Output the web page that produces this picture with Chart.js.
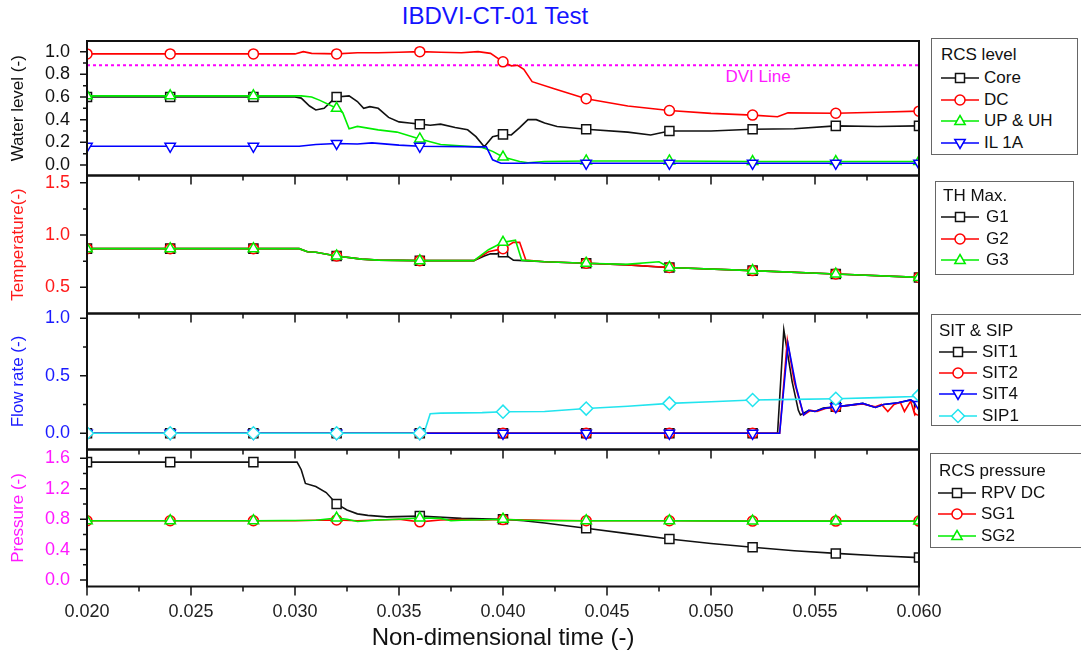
<!DOCTYPE html>
<html>
<head>
<meta charset="utf-8">
<script src="https://cdn.jsdelivr.net/npm/chart.js@4.4.1/dist/chart.umd.min.js"></script>
<style>
  html, body { margin: 0; padding: 0; background: #fff; }
  body { width: 1081px; height: 657px; position: relative; overflow: hidden;
         font-family: 'Liberation Sans', Arial, sans-serif; }
  .panel { position: absolute; left: 0; }
  .title { position: absolute; left: 0; width: 990px; top: 2px; text-align: center;
           font-size: 24px; line-height: 28px; color: #1414ff; }
  .note { position: absolute; font-size: 17px; line-height: 20px; color: #ff19ff;
          transform: translateX(-50%); white-space: nowrap; }
  .legend { position: absolute; border: 1px solid #666; background: #fff;
            font-size: 17px; color: #111; box-sizing: border-box; }
  .legend .row { position: absolute; left: 0; right: 0; height: 20px; line-height: 20px; white-space: nowrap; }
  .legend .row svg { position: absolute; top: 2px; }
  .legend .row span { position: absolute; }
</style>
</head>
<body>
<div class="title">IBDVI-CT-01 Test</div>
<div class="note" style="left:758px; top:67px;">DVI Line</div>

<script>
// ---------- data ----------
// water level panel
const coreT = [0.020, 0.024, 0.028, 0.030, 0.0303, 0.0307, 0.0310, 0.0314, 0.0318, 0.032, 0.0326, 0.0330, 0.0333, 0.0336,
  0.0340, 0.0345, 0.0350, 0.0355, 0.036, 0.0365, 0.0370, 0.0377, 0.0383, 0.0387, 0.0391, 0.0395, 0.040, 0.0404, 0.0408,
  0.0412, 0.0416, 0.0420, 0.0426, 0.044, 0.046, 0.0471, 0.048, 0.050, 0.052, 0.054, 0.056, 0.058, 0.060];
const coreV = [0.60, 0.60, 0.60, 0.60, 0.59, 0.52, 0.485, 0.50, 0.57, 0.60, 0.61, 0.56, 0.50, 0.515,
  0.50, 0.42, 0.38, 0.37, 0.36, 0.35, 0.36, 0.33, 0.31, 0.25, 0.16, 0.25, 0.27, 0.265, 0.33,
  0.40, 0.40, 0.37, 0.34, 0.315, 0.29, 0.265, 0.30, 0.30, 0.315, 0.32, 0.345, 0.34, 0.345];
const dcT = [0.020, 0.024, 0.028, 0.0300, 0.0304, 0.0308, 0.032, 0.033, 0.034, 0.035, 0.036, 0.037, 0.038, 0.0388, 0.0394,
  0.040, 0.0404, 0.0407, 0.0410, 0.0414, 0.0425, 0.044, 0.046, 0.048, 0.050, 0.052, 0.0532, 0.0537, 0.056, 0.058, 0.060];
const dcV = [0.98, 0.98, 0.98, 0.98, 1.00, 0.985, 0.98, 0.99, 0.99, 0.995, 1.00, 0.995, 0.99, 1.00, 0.985,
  0.91, 0.875, 0.88, 0.845, 0.735, 0.67, 0.585, 0.52, 0.48, 0.455, 0.44, 0.425, 0.46, 0.456, 0.465, 0.475];
const upT = [0.020, 0.024, 0.028, 0.0303, 0.0308, 0.0312, 0.032, 0.0323, 0.0326, 0.0330, 0.0340, 0.0349, 0.036, 0.037,
  0.039, 0.0395, 0.040, 0.0408, 0.0412, 0.042, 0.044, 0.048, 0.052, 0.056, 0.060];
const upV = [0.61, 0.61, 0.61, 0.61, 0.60, 0.57, 0.50, 0.46, 0.32, 0.34, 0.31, 0.29, 0.23, 0.18,
  0.155, 0.12, 0.07, 0.03, 0.02, 0.03, 0.035, 0.035, 0.03, 0.03, 0.03];
const ilT = [0.020, 0.024, 0.028, 0.0302, 0.031, 0.032, 0.033, 0.0337, 0.035, 0.036, 0.0392, 0.0395, 0.0399, 0.041,
  0.0415, 0.042, 0.044, 0.048, 0.052, 0.056, 0.060];
const ilV = [0.165, 0.165, 0.165, 0.165, 0.18, 0.19, 0.185, 0.195, 0.175, 0.165, 0.16, 0.045, 0.015, 0.015,
  0.02, 0.015, 0.015, 0.015, 0.015, 0.015, 0.015];
const dviT = [0.020, 0.060];
const dviV = [0.88, 0.88];

// temperature panel
const g1T = [0.020, 0.024, 0.028, 0.0302, 0.0306, 0.031, 0.032, 0.0332, 0.034, 0.036, 0.0386, 0.0391, 0.0394, 0.0397,
  0.040, 0.0402, 0.0405, 0.042, 0.044, 0.046, 0.0475, 0.048, 0.052, 0.056, 0.060];
const g1V = [0.87, 0.87, 0.87, 0.87, 0.84, 0.835, 0.80, 0.77, 0.76, 0.755, 0.755, 0.80, 0.82, 0.82,
  0.835, 0.80, 0.76, 0.745, 0.73, 0.715, 0.695, 0.69, 0.66, 0.627, 0.595];
const g2T = [0.020, 0.024, 0.028, 0.0302, 0.0306, 0.031, 0.032, 0.0332, 0.034, 0.036, 0.0386, 0.0393, 0.040, 0.0405,
  0.0408, 0.0411, 0.042, 0.044, 0.046, 0.048, 0.052, 0.056, 0.060];
const g2V = [0.87, 0.87, 0.87, 0.87, 0.84, 0.835, 0.80, 0.77, 0.76, 0.755, 0.755, 0.84, 0.87, 0.93,
  0.93, 0.76, 0.745, 0.73, 0.715, 0.69, 0.66, 0.627, 0.595];
const g3T = [0.020, 0.024, 0.028, 0.0302, 0.0306, 0.031, 0.032, 0.0332, 0.034, 0.036, 0.0386, 0.0393, 0.040, 0.0406,
  0.0409, 0.042, 0.044, 0.0459, 0.0475, 0.048, 0.052, 0.056, 0.060];
const g3V = [0.87, 0.87, 0.87, 0.87, 0.84, 0.835, 0.80, 0.77, 0.76, 0.755, 0.755, 0.86, 0.93, 0.95,
  0.76, 0.745, 0.73, 0.72, 0.745, 0.69, 0.66, 0.627, 0.595];

// flow rate panel
const sit1T = [0.020, 0.024, 0.028, 0.032, 0.036, 0.040, 0.044, 0.048, 0.052, 0.0532, 0.0535, 0.0539, 0.0542, 0.0543,
  0.0547, 0.0550, 0.0554, 0.056, 0.0567, 0.0573, 0.0579, 0.0583, 0.059, 0.0596, 0.060];
const sit1V = [0, 0, 0, 0, 0, 0, 0, 0, 0, 0, 0.90, 0.45, 0.20, 0.16,
  0.20, 0.19, 0.22, 0.23, 0.245, 0.26, 0.225, 0.25, 0.265, 0.29, 0.23];
const sit2T = [0.020, 0.024, 0.028, 0.032, 0.036, 0.040, 0.044, 0.048, 0.052, 0.0533, 0.05367, 0.0540, 0.05445, 0.0548,
  0.0551, 0.0555, 0.056, 0.0567, 0.0573, 0.0579, 0.0582, 0.0585, 0.0588, 0.0591, 0.0593, 0.0596, 0.0598, 0.060];
const sit2V = [0, 0, 0, 0, 0, 0, 0, 0, 0, 0, 0.81, 0.45, 0.16, 0.20,
  0.19, 0.215, 0.23, 0.245, 0.255, 0.23, 0.25, 0.19, 0.25, 0.27, 0.19, 0.28, 0.16, 0.20];
const sit4T = [0.020, 0.024, 0.028, 0.032, 0.036, 0.040, 0.044, 0.048, 0.052, 0.0533, 0.0537, 0.0541, 0.05445, 0.0547,
  0.0550, 0.0554, 0.056, 0.0567, 0.0573, 0.0579, 0.0583, 0.059, 0.0596, 0.060];
const sit4V = [0, 0, 0, 0, 0, 0, 0, 0, 0, 0, 0.78, 0.40, 0.16, 0.20,
  0.19, 0.215, 0.23, 0.245, 0.26, 0.225, 0.25, 0.265, 0.29, 0.25];
const sip1T = [0.020, 0.024, 0.028, 0.032, 0.036, 0.0362, 0.0365, 0.037, 0.039, 0.040, 0.042, 0.044, 0.046, 0.048,
  0.050, 0.052, 0.054, 0.056, 0.058, 0.0598, 0.060];
const sip1V = [0, 0, 0, 0, 0, 0, 0.17, 0.175, 0.18, 0.188, 0.19, 0.215, 0.235, 0.26,
  0.275, 0.29, 0.295, 0.30, 0.31, 0.32, 0.33];

// pressure panel
const rpvT = [0.020, 0.024, 0.028, 0.0301, 0.0303, 0.0305, 0.031, 0.0315, 0.032, 0.0325, 0.033, 0.0335, 0.0344, 0.036,
  0.038, 0.040, 0.041, 0.042, 0.044, 0.046, 0.048, 0.050, 0.052, 0.054, 0.056, 0.058, 0.060];
const rpvV = [1.55, 1.55, 1.55, 1.55, 1.45, 1.27, 1.23, 1.15, 1.00, 0.92, 0.87, 0.85, 0.83, 0.84,
  0.81, 0.80, 0.78, 0.75, 0.68, 0.61, 0.54, 0.48, 0.43, 0.385, 0.35, 0.32, 0.295];
const sg1T = [0.020, 0.024, 0.028, 0.030, 0.031, 0.032, 0.033, 0.034, 0.035, 0.036, 0.037, 0.038, 0.039, 0.040,
  0.042, 0.044, 0.048, 0.052, 0.056, 0.060];
const sg1V = [0.78, 0.78, 0.78, 0.78, 0.785, 0.79, 0.78, 0.79, 0.80, 0.765, 0.79, 0.795, 0.79, 0.795,
  0.785, 0.78, 0.78, 0.775, 0.775, 0.775];
const sg2T = [0.020, 0.024, 0.028, 0.031, 0.032, 0.0325, 0.033, 0.034, 0.035, 0.036, 0.0370, 0.0375, 0.038, 0.040,
  0.041, 0.042, 0.044, 0.048, 0.052, 0.056, 0.060];
const sg2V = [0.78, 0.78, 0.78, 0.785, 0.815, 0.80, 0.77, 0.79, 0.80, 0.815, 0.81, 0.78, 0.785, 0.80,
  0.785, 0.78, 0.78, 0.78, 0.775, 0.775, 0.775];

// axis ticks
const xMajor = [0.020, 0.025, 0.030, 0.035, 0.040, 0.045, 0.050, 0.055, 0.060];
const xMinor = [0.0225, 0.0275, 0.0325, 0.0375, 0.0425, 0.0475, 0.0525, 0.0575];
const levelTicks = [0.0, 0.2, 0.4, 0.6, 0.8, 1.0];
const levelMinor = [0.1, 0.3, 0.5, 0.7, 0.9];
const tempTicks = [0.5, 1.0, 1.5];
const tempMinor = [0.75, 1.25];
const flowTicks = [0.0, 0.5, 1.0];
const flowMinor = [0.25, 0.75];
const pressTicks = [0.0, 0.4, 0.8, 1.2, 1.6];
const pressMinor = [0.2, 0.6, 1.0, 1.4];

const levelNames = ['Core', 'DC', 'UP & UH', 'IL 1A'];
const tempNames = ['G1', 'G2', 'G3'];
const flowNames = ['SIT1', 'SIT2', 'SIT4', 'SIP1'];
const pressNames = ['RPV DC', 'SG1', 'SG2'];

// ---------- look ----------
const FONT = "'Liberation Sans', Arial, sans-serif";
const BLACK = '#111111', RED = '#ff0000', GREEN = '#00ee00', BLUE = '#0000ff', CYAN = '#22e4ee', MAGENTA = '#ff00ff';
const PLOT_L = 87, PLOT_R = 919, CANVAS_W = 960;
const edges = [41, 175.5, 313.5, 449.5, 586.5];

Chart.defaults.font.family = FONT;

function pts(ts, vs) { return ts.map((t, i) => ({x: t, y: vs[i]})); }
function isMarker(t) { const k = (t - 0.020) / 0.004; return Math.abs(k - Math.round(k)) < 1e-6; }

function series(label, ts, vs, color, style, r, extra) {
  return Object.assign({
    label, data: pts(ts, vs), borderColor: color, borderWidth: 1.6, tension: 0, fill: false,
    clip: 0,
    pointStyle: style,
    pointRadius: c => (c.raw && isMarker(c.raw.x)) ? r : 0,
    pointHoverRadius: 0,
    pointBackgroundColor: '#ffffff', pointBorderColor: color, pointBorderWidth: 1.5
  }, extra || {});
}

// frame + tick marks (x ticks hang down from each panel's lower edge)
const frameTicks = {
  id: 'frameTicks',
  afterDraw(chart, args, o) {
    const {ctx, chartArea: a} = chart;
    const xs = chart.scales.x, ys = chart.scales.y;
    ctx.save();
    ctx.strokeStyle = '#111';
    ctx.lineWidth = 1.5;
    ctx.beginPath();
    xMajor.forEach(v => { const p = xs.getPixelForValue(v); ctx.moveTo(p, a.bottom); ctx.lineTo(p, a.bottom + 9); });
    xMinor.forEach(v => { const p = xs.getPixelForValue(v); ctx.moveTo(p, a.bottom); ctx.lineTo(p, a.bottom + 5); });
    o.major.forEach(v => { const p = ys.getPixelForValue(v); ctx.moveTo(a.left - 7, p); ctx.lineTo(a.left, p); });
    o.minor.forEach(v => { const p = ys.getPixelForValue(v); ctx.moveTo(a.left - 4, p); ctx.lineTo(a.left, p); });
    ctx.stroke();
    ctx.lineWidth = 2;
    ctx.strokeRect(a.left, a.top, a.right - a.left, a.bottom - a.top);
    ctx.restore();
  }
};

function makePanel(i, datasets, ycfg, bottomAxis) {
  const top = Math.floor(edges[i]) - 30;
  const padTop = edges[i] - top;
  const areaH = edges[i + 1] - edges[i];
  const axisH = bottomAxis ? 70 : 0;
  const H = Math.ceil(padTop + areaH + axisH + (bottomAxis ? 0 : 30));
  const padBottom = H - padTop - areaH - axisH;

  const wrap = document.createElement('div');
  wrap.className = 'panel';
  wrap.style.top = top + 'px';
  const cv = document.createElement('canvas');
  cv.width = CANVAS_W; cv.height = H;
  cv.style.width = CANVAS_W + 'px'; cv.style.height = H + 'px';
  wrap.appendChild(cv);
  document.body.appendChild(wrap);

  const xScale = bottomAxis ? {
    type: 'linear', min: 0.020, max: 0.060,
    afterFit: s => { s.height = axisH; },
    afterBuildTicks: s => { s.ticks = xMajor.map(v => ({value: v})); },
    grid: { display: false, drawTicks: false },
    border: { display: false },
    ticks: { color: '#222', font: { size: 18 }, padding: 15, autoSkip: false, maxRotation: 0,
             callback: v => v.toFixed(3) },
    title: { display: true, text: 'Non-dimensional time (-)', color: '#111',
             font: { size: 24 }, padding: { top: 0, bottom: 4 } }
  } : { type: 'linear', min: 0.020, max: 0.060, display: false };

  return new Chart(cv, {
    type: 'line',
    data: { datasets },
    options: {
      responsive: false, animation: false, events: [],
      layout: { padding: { top: padTop, bottom: padBottom, left: 0, right: CANVAS_W - PLOT_R } },
      plugins: { legend: { display: false }, tooltip: { enabled: false },
                 frameTicks: { major: ycfg.ticks, minor: ycfg.minor } },
      scales: {
        x: xScale,
        y: {
          type: 'linear', min: ycfg.min, max: ycfg.max,
          afterFit: s => { s.width = PLOT_L; },
          afterBuildTicks: s => { s.ticks = ycfg.ticks.map(v => ({value: v})); },
          grid: { display: false, drawTicks: false },
          border: { display: false },
          ticks: { color: ycfg.color, font: { size: 18 }, padding: 17, autoSkip: false,
                   callback: v => v.toFixed(1) },
          title: { display: true, text: ycfg.title, color: ycfg.color,
                   font: { size: 17 }, padding: { top: 8, bottom: 0 } }
        }
      }
    },
    plugins: [frameTicks]
  });
}

makePanel(0, [
  series('Core', coreT, coreV, BLACK, 'rect', 6.4, { order: 0 }),
  series('DC', dcT, dcV, RED, 'circle', 5, { order: -1 }),
  series('UP & UH', upT, upV, GREEN, 'triangle', 6, { order: -2 }),
  series('IL 1A', ilT, ilV, BLUE, 'triangle', 6, { order: -3, pointRotation: 180 }),
  { label: 'DVI Line', data: pts(dviT, dviV), borderColor: MAGENTA, borderWidth: 2, clip: 0,
    borderDash: [3, 3], pointRadius: 0, order: 1 }
], { min: -0.093, max: 1.094, ticks: levelTicks, minor: levelMinor, color: BLACK, title: 'Water level (-)' }, false);

makePanel(1, [
  series('G1', g1T, g1V, BLACK, 'rect', 6.4, { order: 0 }),
  series('G2', g2T, g2V, RED, 'circle', 5, { order: -1 }),
  series('G3', g3T, g3V, GREEN, 'triangle', 6, { order: -2 })
], { min: 0.25, max: 1.569, ticks: tempTicks, minor: tempMinor, color: '#ff1a1a', title: 'Temperature(-)' }, false);

makePanel(2, [
  series('SIT1', sit1T, sit1V, BLACK, 'rect', 6.4, { order: 0 }),
  series('SIT2', sit2T, sit2V, RED, 'circle', 5, { order: -1 }),
  series('SIT4', sit4T, sit4V, BLUE, 'triangle', 6, { order: -2, pointRotation: 180 }),
  series('SIP1', sip1T, sip1V, CYAN, 'rectRot', 6.5, { order: -3 })
], { min: -0.141, max: 1.042, ticks: flowTicks, minor: flowMinor, color: '#1a1aff', title: 'Flow rate (-)' }, false);

makePanel(3, [
  series('RPV DC', rpvT, rpvV, BLACK, 'rect', 6.4, { order: 0 }),
  series('SG1', sg1T, sg1V, RED, 'circle', 5, { order: -1 }),
  series('SG2', sg2T, sg2V, GREEN, 'triangle', 6, { order: -2 })
], { min: -0.085, max: 1.716, ticks: pressTicks, minor: pressMinor, color: '#ff19ff', title: 'Pressure (-)' }, true);

// ---------- legends (HTML) ----------
function icon(style, color) {
  let m = '';
  if (style === 'square') m = `<rect x="14.5" y="3.5" width="9" height="9"/>`;
  else if (style === 'circle') m = `<circle cx="19" cy="8" r="5"/>`;
  else if (style === 'up') m = `<polygon points="19,2.5 24.2,11.5 13.8,11.5"/>`;
  else if (style === 'down') m = `<polygon points="13.8,4.5 24.2,4.5 19,13.5"/>`;
  else m = `<polygon points="19,1.5 25.5,8 19,14.5 12.5,8"/>`;
  return `<svg width="38" height="16" viewBox="0 0 38 16">` +
    `<line x1="0" y1="8" x2="38" y2="8" stroke="${color}" stroke-width="1.6"/>` +
    `<g fill="#fff" stroke="${color}" stroke-width="1.5">${m}</g></svg>`;
}

const legends = [
  { left: 931, top: 38, w: 147, h: 117, title: 'RCS level', titleY: 16, titleX: 9, lineX: 9, textX: 52,
    rows: [39, 60.5, 82, 103.5], names: levelNames,
    styles: ['square', 'circle', 'up', 'down'], colors: [BLACK, RED, GREEN, BLUE] },
  { left: 935, top: 181, w: 139, h: 94, title: 'TH Max.', titleY: 14, titleX: 7, lineX: 5, textX: 50,
    rows: [35, 56.7, 78.3], names: tempNames,
    styles: ['square', 'circle', 'up'], colors: [BLACK, RED, GREEN] },
  { left: 931, top: 314, w: 170, h: 112, title: 'SIT & SIP', titleY: 16, titleX: 7, lineX: 7, textX: 50,
    rows: [36.7, 57.7, 79.3, 101.3], names: flowNames,
    styles: ['square', 'circle', 'down', 'diamond'], colors: [BLACK, RED, BLUE, CYAN] },
  { left: 930, top: 453, w: 170, h: 95, title: 'RCS pressure', titleY: 17, titleX: 8, lineX: 7, textX: 50,
    rows: [39, 60.3, 82.3], names: pressNames,
    styles: ['square', 'circle', 'up'], colors: [BLACK, RED, GREEN] }
];

legends.forEach(L => {
  const box = document.createElement('div');
  box.className = 'legend';
  Object.assign(box.style, { left: L.left + 'px', top: L.top + 'px', width: L.w + 'px', height: L.h + 'px' });
  const t = document.createElement('div');
  t.className = 'row';
  t.style.top = (L.titleY - 10) + 'px';
  const ts = document.createElement('span');
  ts.style.left = L.titleX + 'px';
  ts.textContent = L.title;
  t.appendChild(ts);
  box.appendChild(t);
  L.names.forEach((name, k) => {
    const row = document.createElement('div');
    row.className = 'row';
    row.style.top = (L.rows[k] - 10) + 'px';
    row.innerHTML = icon(L.styles[k], L.colors[k]);
    row.firstChild.style.left = L.lineX + 'px';
    const s = document.createElement('span');
    s.style.left = L.textX + 'px';
    s.textContent = name;
    row.appendChild(s);
    box.appendChild(row);
  });
  document.body.appendChild(box);
});
</script>
</body>
</html>
